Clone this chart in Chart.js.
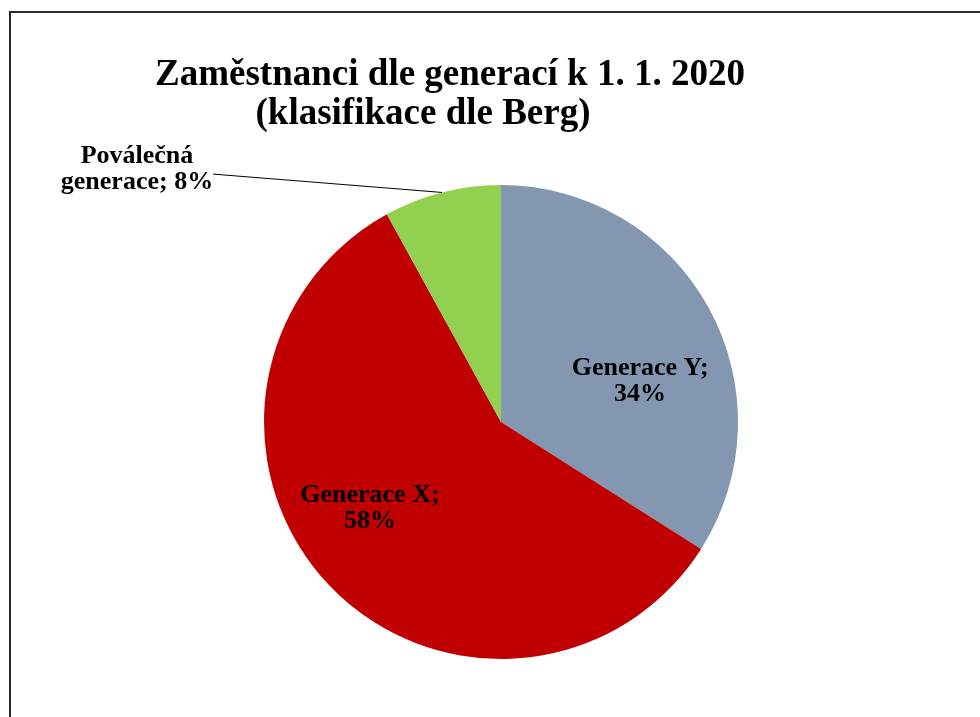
<!DOCTYPE html>
<html>
<head>
<meta charset="utf-8">
<script src="https://cdn.jsdelivr.net/npm/chart.js@4"></script>
<style>
  html, body { margin: 0; padding: 0; background: #fff; }
  canvas { display: block; }
</style>
</head>
<body>
<canvas id="genChart" width="980" height="717"></canvas>
<script>
//-------------------------------------------------------------
// Data
//-------------------------------------------------------------
const titleLines = ["Zaměstnanci dle generací k 1. 1. 2020", "(klasifikace dle Berg)"];
const categories = ["Generace Y", "Generace X", "Poválečná generace"];
const shares = [34, 58, 8];
const sliceColors = ["#8497B0", "#C00000", "#92D050"];

//-------------------------------------------------------------
// Label placement (relative to pie centre, in units of radius)
//-------------------------------------------------------------
const labelSpots = [
  { dx: 0.587, dy: -0.198 },
  { dx: -0.553, dy: 0.338 },
  { dx: -1.536, dy: -1.093, leader: { dx: -1.215, dy: -1.046 } },
];

const SERIF = '"Liberation Serif", "Times New Roman", serif';

function wrapText(ctx, text, maxWidth) {
  const words = text.split(" ");
  const lines = [];
  let cur = "";
  for (const w of words) {
    const test = cur ? cur + " " + w : w;
    if (cur && ctx.measureText(test).width > maxWidth) {
      lines.push(cur);
      cur = w;
    } else {
      cur = test;
    }
  }
  if (cur) lines.push(cur);
  return lines;
}

// frame + title
const framePlugin = {
  id: "frame",
  afterDraw(chart) {
    const ctx = chart.ctx;
    ctx.save();
    ctx.strokeStyle = "#2b2b2b";
    ctx.lineWidth = 2;
    ctx.beginPath();
    ctx.moveTo(10, chart.height);
    ctx.lineTo(10, 12);
    ctx.lineTo(chart.width, 12);
    ctx.stroke();

    ctx.fillStyle = "#000";
    ctx.font = "bold 37px " + SERIF;
    ctx.textAlign = "center";
    ctx.textBaseline = "alphabetic";
    ctx.fillText(titleLines[0], 450, 85);
    ctx.fillText(titleLines[1], 423, 124);
    ctx.restore();
  },
};

// data labels "Name; 34%"
const sliceLabelPlugin = {
  id: "sliceLabels",
  afterDatasetsDraw(chart) {
    const ctx = chart.ctx;
    const meta = chart.getDatasetMeta(0);
    ctx.save();
    ctx.font = "bold 26px " + SERIF;
    ctx.fillStyle = "#000";
    ctx.textAlign = "center";
    ctx.textBaseline = "alphabetic";
    meta.data.forEach((arc, i) => {
      const { x, y, outerRadius, startAngle, endAngle } = arc.getProps(
        ["x", "y", "outerRadius", "startAngle", "endAngle"], true);
      const spot = labelSpots[i];
      const text = `${categories[i]}; ${shares[i]}%`;
      const lines = wrapText(ctx, text, 160);
      const lx = x + spot.dx * outerRadius;
      const ly = y + spot.dy * outerRadius;
      lines.forEach((line, j) => ctx.fillText(line, lx, ly + j * 26));

      if (spot.leader) {
        const mid = (startAngle + endAngle) / 2;
        ctx.strokeStyle = "#000";
        ctx.lineWidth = 1;
        ctx.beginPath();
        ctx.moveTo(x + spot.leader.dx * outerRadius, y + spot.leader.dy * outerRadius);
        ctx.lineTo(x + Math.cos(mid) * outerRadius, y + Math.sin(mid) * outerRadius);
        ctx.stroke();
      }
    });
    ctx.restore();
  },
};

//-------------------------------------------------------------
// Chart
//-------------------------------------------------------------
new Chart(document.getElementById("genChart"), {
  type: "pie",
  data: {
    labels: categories,
    datasets: [
      {
        data: shares,
        backgroundColor: sliceColors,
        borderWidth: 0,
        hoverOffset: 0,
      },
    ],
  },
  options: {
    responsive: false,
    animation: false,
    devicePixelRatio: 1,
    layout: { padding: { top: 185, bottom: 58, left: 22, right: 0 } },
    plugins: {
      legend: { display: false },
      title: { display: false },
      tooltip: { enabled: false },
    },
  },
  plugins: [sliceLabelPlugin, framePlugin],
});
</script>
</body>
</html>
